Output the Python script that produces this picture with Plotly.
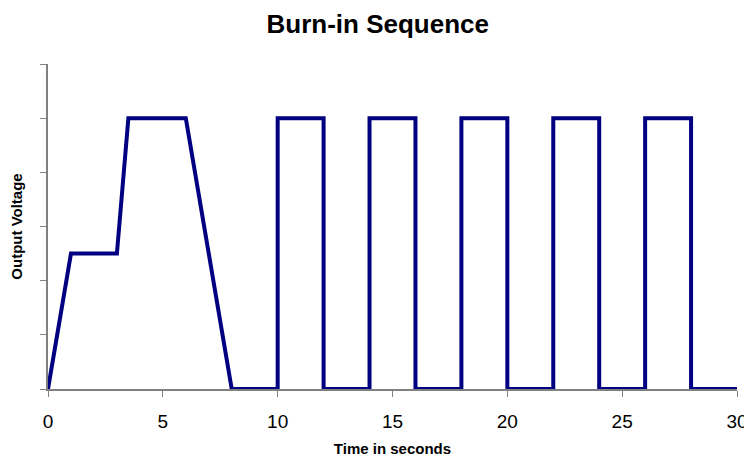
import plotly.graph_objects as go

# Burn-in voltage profile (time in s, output voltage in arbitrary units)
time_s = [0, 1, 3, 3.5, 6, 8, 10, 10, 12, 12, 14, 14, 16, 16, 18, 18, 20, 20,
          22, 22, 24, 24, 26, 26, 28, 28, 30]
voltage = [0, 2.5, 2.5, 5, 5, 0, 0, 5, 5, 0, 0, 5, 5, 0, 0, 5, 5, 0,
           0, 5, 5, 0, 0, 5, 5, 0, 0]
x_ticks = [0, 5, 10, 15, 20, 25, 30]

fig = go.Figure()

fig.add_trace(
    go.Scatter(
        x=time_s,
        y=voltage,
        mode='lines',
        line=dict(color='#000080', width=4),
        showlegend=False,
        cliponaxis=False
    )
)

font_family = 'Liberation Sans, Arial, sans-serif'

# the page body adds an 8px margin, so the figure is shrunk to fit the window
fig.update_xaxes(
    range=[0, 30],
    tickvals=x_ticks,
    showgrid=False,
    zeroline=False,
    showline=True,
    linecolor='#808080',
    linewidth=1.5,
    ticks='outside',
    ticklen=6,
    tickcolor='#808080',
    ticklabelstandoff=8,
    automargin=False,
    tickfont=dict(size=19, color='black', family=font_family),
    title=dict(text='<b>Time in seconds</b>', font=dict(size=15, color='black', family=font_family), standoff=13)
)

fig.update_yaxes(
    range=[0, 6],
    dtick=1,
    showgrid=False,
    zeroline=False,
    showline=True,
    linecolor='#808080',
    linewidth=1.5,
    ticks='outside',
    ticklen=6,
    tickcolor='#808080',
    showticklabels=False,
    automargin=False,
    title=dict(text='<b>Output Voltage</b>', font=dict(size=15, color='black', family=font_family), standoff=14)
)

fig.update_layout(
    width=744,
    height=451,
    plot_bgcolor='white',
    paper_bgcolor='white',
    margin=dict(l=40, r=15, t=56, b=70),
    title=dict(
        text='<b>Burn-in Sequence</b>',
        x=0.497, xanchor='center',
        y=0.965, yanchor='middle',
        font=dict(size=26, color='black', family=font_family)
    )
)

fig.write_html("out.html")
